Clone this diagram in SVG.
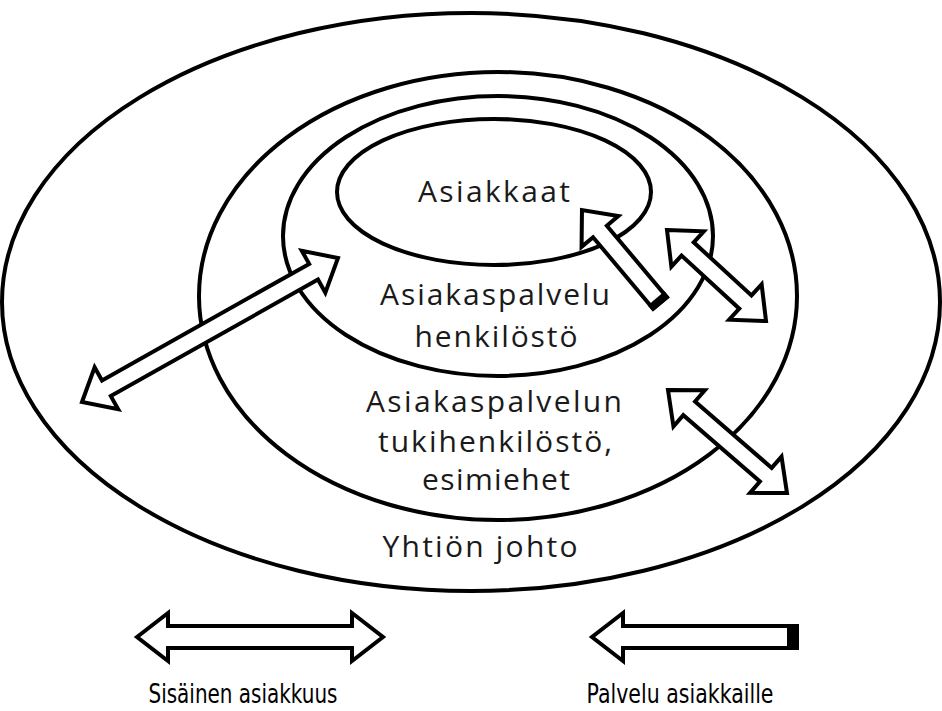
<svg xmlns="http://www.w3.org/2000/svg" width="942" height="711" viewBox="0 0 942 711">
<style>
.ring{fill:none;stroke:#000;stroke-width:4}
.arr{fill:#fff;stroke:#000;stroke-width:4;stroke-linejoin:miter}
.cap{fill:#000}
.lbl{font-family:"Open Sans","Noto Sans",sans-serif;font-size:30px;fill:#1a1a1a;text-anchor:middle}
.bot{font-family:"DejaVu Sans","Liberation Sans",sans-serif;font-size:26px;fill:#000;text-anchor:middle}
</style>
<rect width="942" height="711" fill="#fff"/>
<g id="yhtion-johto">
<ellipse class="ring" cx="471" cy="302" rx="469" ry="289"/>
<text class="lbl" x="480" y="557" textLength="195">Yhtiön johto</text>
</g>
<g id="tukihenkilosto">
<ellipse class="ring" cx="498" cy="296" rx="299" ry="224"/>
<text class="lbl" x="494" y="412" textLength="256">Asiakaspalvelun</text>
<text class="lbl" x="495" y="452" textLength="234">tukihenkilöstö,</text>
<text class="lbl" x="496" y="490" textLength="148">esimiehet</text>
</g>
<g id="asiakaspalvelu">
<ellipse class="ring" cx="498" cy="236" rx="215" ry="140"/>
<text class="lbl" x="495" y="305" textLength="230">Asiakaspalvelu</text>
<text class="lbl" x="496" y="347" textLength="163">henkilöstö</text>
</g>
<g id="asiakkaat">
<ellipse class="ring" cx="494" cy="192" rx="157" ry="73"/>
<text class="lbl" x="494" y="202" textLength="152">Asiakkaat</text>
</g>
<g id="connectors">
<path class="arr" transform="translate(82,402) rotate(-29.36)" d="M0,0 L28,-24 L28,-9 L265.7,-9 L265.7,-24 L293.7,0 L265.7,24 L265.7,9 L28,9 L28,24 Z"/>
<g transform="translate(660,303) rotate(-130)">
<path class="arr" d="M0,-9 L93.4,-9 L93.4,-24 L121.4,0 L93.4,24 L93.4,9 L0,9 Z"/>
<rect class="cap" x="-2" y="-11" width="8" height="22"/>
</g>
<path class="arr" transform="translate(667,230) rotate(42.6)" d="M0,0 L28,-24 L28,-9 L106.5,-9 L106.5,-24 L134.5,0 L106.5,24 L106.5,9 L28,9 L28,24 Z"/>
<path class="arr" transform="translate(668,390) rotate(40.9)" d="M0,0 L28,-24 L28,-9 L129.4,-9 L129.4,-24 L157.4,0 L129.4,24 L129.4,9 L28,9 L28,24 Z"/>
</g>
<g id="legend-sisainen">
<path class="arr" transform="translate(137,637)" d="M0,0 L31,-24 L31,-11 L215,-11 L215,-24 L246,0 L215,24 L215,11 L31,11 L31,24 Z"/>
<text class="bot" x="243" y="703" textLength="189" lengthAdjust="spacingAndGlyphs">Sisäinen asiakkuus</text>
</g>
<g id="legend-palvelu">
<g transform="translate(797,637) rotate(180)">
<path class="arr" d="M0,-11 L174,-11 L174,-24 L205,0 L174,24 L174,11 L0,11 Z"/>
<rect class="cap" x="-2" y="-13" width="12" height="26"/>
</g>
<text class="bot" x="680" y="703" textLength="187" lengthAdjust="spacingAndGlyphs">Palvelu asiakkaille</text>
</g>
</svg>
